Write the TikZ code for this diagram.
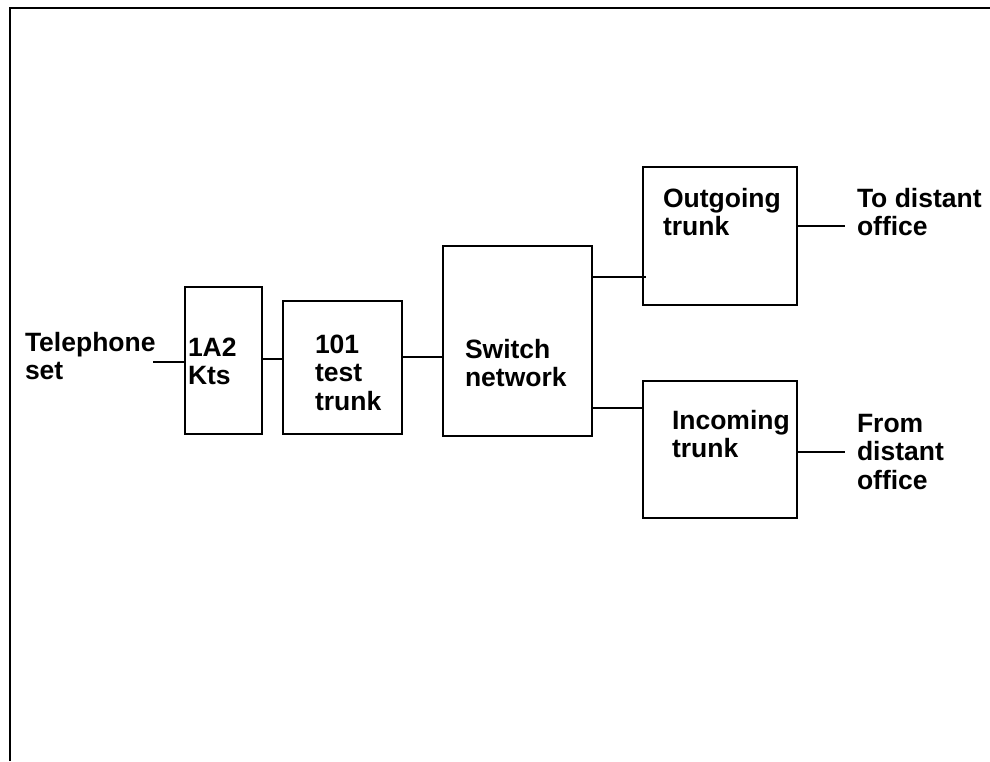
\documentclass[tikz,border=0pt]{standalone}
\usepackage{fontspec}
\setmainfont{Liberation Sans}
\begin{document}
\begin{tikzpicture}[x=1pt,y=-1pt,
  line width=2pt,
  box/.style={draw, rectangle, inner sep=0pt, outer sep=0pt},
  lbl/.style={anchor=base west, inner sep=0pt, outer sep=0pt,
    font=\fontsize{26.5}{28.5}\selectfont\bfseries}]
\useasboundingbox (0,0) rectangle (990,761);

% outer frame (top and left edges)
\draw (10,761) -- (10,8) -- (990,8);

% blocks
\node[box, minimum width=77pt,  minimum height=147pt] (kts) at (223.5,360.5) {};
\node[box, minimum width=119pt, minimum height=133pt] (tt)  at (342.5,367.5) {};
\node[box, minimum width=149pt, minimum height=190pt] (sw)  at (517.5,341) {};
\node[box, minimum width=154pt, minimum height=138pt] (out) at (720,236) {};
\node[box, minimum width=154pt, minimum height=137pt] (inc) at (720,449.5) {};

% labels
\newcommand{\twoline}[1]{\begin{tabular}[t]{@{}l@{}}#1\end{tabular}}
\node[lbl] (ltel) at (25,351)  {\twoline{Telephone\\set}};
\node[lbl] (lkts) at (188,356) {\twoline{1A2\\Kts}};
\node[lbl] (ltt)  at (315,353) {\twoline{101\\test\\trunk}};
\node[lbl] (lsw)  at (465,358) {\twoline{Switch\\network}};
\node[lbl] (lout) at (663,207) {\twoline{Outgoing\\trunk}};
\node[lbl] (linc) at (672,429) {\twoline{Incoming\\trunk}};
\node[lbl] (lto)  at (857,207) {\twoline{To distant\\office}};
\node[lbl] (lfr)  at (857,432) {\twoline{From\\distant\\office}};

% connector end points
\coordinate (telend) at (153,362);
\coordinate (toend)  at (845,226);
\coordinate (frend)  at (845,452);
\coordinate (y1) at (0,359);
\coordinate (y2) at (0,357);
\coordinate (y3) at (0,277);
\coordinate (y4) at (0,408);

% connectors
\draw (telend) -- (telend -| kts.west);
\draw (kts.east |- y1) -- (tt.west |- y1);
\draw (tt.east |- y2) -- (sw.west |- y2);
\draw (sw.east |- y3) -- ([xshift=3pt]out.west |- y3);
\draw (sw.east |- y4) -- (inc.west |- y4);
\draw (out.east |- toend) -- (toend);
\draw (inc.east |- frend) -- (frend);
\end{tikzpicture}
\end{document}
